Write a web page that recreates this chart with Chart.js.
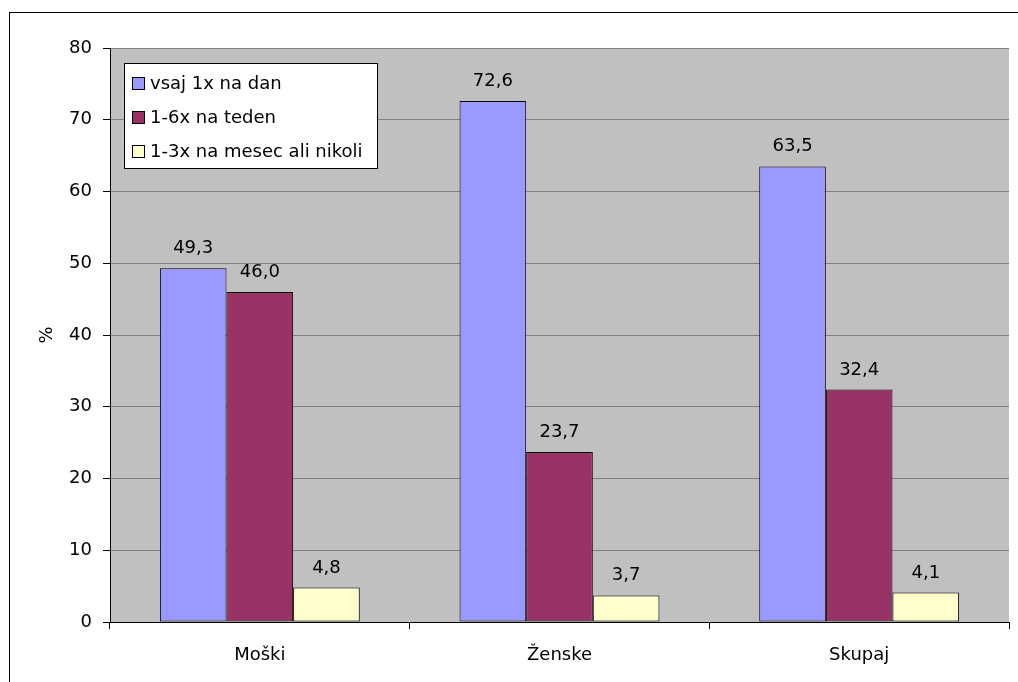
<!DOCTYPE html>
<html><head><meta charset="utf-8">
<script src="https://cdn.jsdelivr.net/npm/chart.js@4/dist/chart.umd.min.js"></script>
<style>html,body{margin:0;padding:0;background:#fff}#wrap{width:1018px;height:682px}</style>
</head><body><div id="wrap"><canvas id="c" width="1018" height="682"></canvas></div>
<script>
const categories = ['Moški', 'Ženske', 'Skupaj'];
const seriesNames = ['vsaj 1x na dan', '1-6x na teden', '1-3x na mesec ali nikoli'];
const daily = [49.3, 72.6, 63.5];
const weekly = [46.0, 23.7, 32.4];
const monthly = [4.8, 3.7, 4.1];
const yTicks = [0, 10, 20, 30, 40, 50, 60, 70, 80];
const colors = ['#9999FF', '#993366', '#FFFFCC'];
const FONT = 'Tahoma, "DejaVu Sans", sans-serif';
const FS = 18;

const bgPlugin = {
  id: 'bg',
  beforeDraw(chart) {
    const {ctx, chartArea: a} = chart;
    ctx.save();
    ctx.fillStyle = '#fff';
    ctx.fillRect(0, 0, chart.width, chart.height);
    ctx.fillStyle = '#C0C0C0';
    ctx.fillRect(a.left, a.top, a.right - a.left, a.bottom - a.top);
    ctx.strokeStyle = '#000';
    ctx.lineWidth = 1;
    ctx.strokeRect(9.5, 12.5, chart.width + 10, chart.height + 10);
    ctx.restore();
  },
  afterDatasetsDraw(chart) {
    const {ctx, chartArea: a} = chart;
    ctx.save();
    ctx.fillStyle = '#000';
    ctx.font = FS + 'px ' + FONT;
    ctx.textAlign = 'center';
    ctx.textBaseline = 'alphabetic';
    chart.data.datasets.forEach((ds, i) => {
      chart.getDatasetMeta(i).data.forEach((bar, j) => {
        ctx.fillText(ds.data[j].toFixed(1).replace('.', ','), bar.x, bar.y - 15);
      });
    });
    // legend
    const lx = a.left + 14, ly = a.top + 15, lw = 253, lh = 105;
    ctx.fillStyle = '#fff';
    ctx.fillRect(lx, ly, lw, lh);
    ctx.strokeStyle = '#000';
    ctx.lineWidth = 1;
    ctx.strokeRect(lx + 0.5, ly + 0.5, lw, lh);
    ctx.textAlign = 'left';
    ctx.textBaseline = 'middle';
    chart.data.datasets.forEach((ds, i) => {
      const cy = ly + 20 + i * 34;
      ctx.fillStyle = ds.backgroundColor;
      ctx.fillRect(lx + 8, cy - 6, 13, 13);
      ctx.strokeRect(lx + 8.5, cy - 5.5, 12, 12);
      ctx.fillStyle = '#000';
      ctx.fillText(ds.label, lx + 26, cy + 1);
    });
    ctx.restore();
  }
};

new Chart(document.getElementById('c'), {
  type: 'bar',
  data: {
    labels: categories,
    datasets: [daily, weekly, monthly].map((d, i) => ({
      label: seriesNames[i],
      data: d,
      backgroundColor: colors[i],
      borderColor: '#000',
      borderWidth: 1,
      borderSkipped: false,
      categoryPercentage: 0.667,
      barPercentage: 1
    }))
  },
  options: {
    responsive: false,
    animation: false,
    devicePixelRatio: 1,
    layout: {padding: {left: 0, top: 48, right: 9, bottom: 0}},
    plugins: {legend: {display: false}, tooltip: {enabled: false}},
    scales: {
      x: {
        grid: {display: true, drawOnChartArea: false, offset: true, color: '#000', tickLength: 7},
        border: {color: '#000', width: 1},
        ticks: {color: '#000', font: {family: FONT, size: FS}, padding: 16},
        afterFit(s) { s.height = 60; }
      },
      y: {
        min: 0, max: 80,
        afterBuildTicks(s) { s.ticks = yTicks.map(v => ({value: v})); },
        grid: {color: '#808080', tickColor: '#000', tickLength: 7},
        border: {color: '#000', width: 1},
        ticks: {color: '#000', font: {family: FONT, size: FS}, padding: 11},
        title: {display: true, text: '%', color: '#000', font: {family: FONT, size: FS}, padding: {top: 37, bottom: 0}},
        afterFit(s) { s.width = 110; }
      }
    }
  },
  plugins: [bgPlugin]
});
</script></body></html>
